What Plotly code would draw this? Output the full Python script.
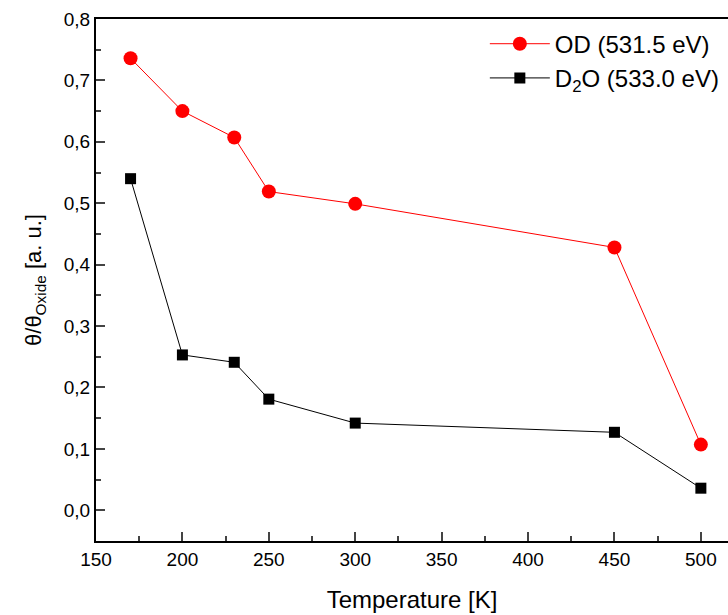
import plotly.graph_objects as go

temps = [170, 200, 230, 250, 300, 450, 500]
od_vals = [0.736, 0.650, 0.607, 0.519, 0.499, 0.428, 0.107]
d2o_vals = [0.540, 0.253, 0.241, 0.181, 0.142, 0.127, 0.036]

fig = go.Figure()
fig.add_trace(go.Scatter(x=temps, y=od_vals, mode="lines+markers", name="OD (531.5 eV)",
                         line=dict(color="#ff0000", width=1),
                         marker=dict(symbol="circle", size=14, color="#ff0000")))
fig.add_trace(go.Scatter(x=temps, y=d2o_vals, mode="lines+markers", name="D<sub>2</sub>O (533.0 eV)",
                         line=dict(color="#000000", width=1),
                         marker=dict(symbol="square", size=11, color="#000000")))

font = "Liberation Sans, Arial, sans-serif"
fig.update_layout(
    width=728, height=615,
    margin=dict(l=96, r=0, t=19, b=74),
    paper_bgcolor="white", plot_bgcolor="white",
    separators=",.",
    font=dict(family=font, color="black", size=19),
    showlegend=True,
    legend=dict(x=0.995, y=0.995, xanchor="right", yanchor="top",
                bgcolor="rgba(0,0,0,0)", font=dict(size=24, family=font),
                itemwidth=60, tracegroupgap=0),
    xaxis=dict(range=[150, 515.7], tick0=150, dtick=50, ticks="inside", ticklen=9,
               tickwidth=2, showline=True, linewidth=2, linecolor="black", mirror=True,
               showgrid=False, zeroline=False,
               minor=dict(ticks="inside", ticklen=5, tickwidth=2, dtick=25, tick0=150, showgrid=False),
               title=dict(text="Temperature [K]", font=dict(size=24), standoff=22),
               tickfont=dict(size=19)),
    yaxis=dict(range=[-0.05, 0.8], tick0=0, dtick=0.1, tickformat=".1f", ticks="inside",
               ticklen=9, tickwidth=2, showline=True, linewidth=2, linecolor="black",
               showgrid=False, zeroline=False,
               minor=dict(ticks="inside", ticklen=5, tickwidth=2, dtick=0.05, tick0=0, showgrid=False),
               title=dict(text="θ/θ<sub>Oxide</sub> [a. u.]", font=dict(size=22), standoff=16),
               tickfont=dict(size=19)),
)

fig.write_html("out.html")
